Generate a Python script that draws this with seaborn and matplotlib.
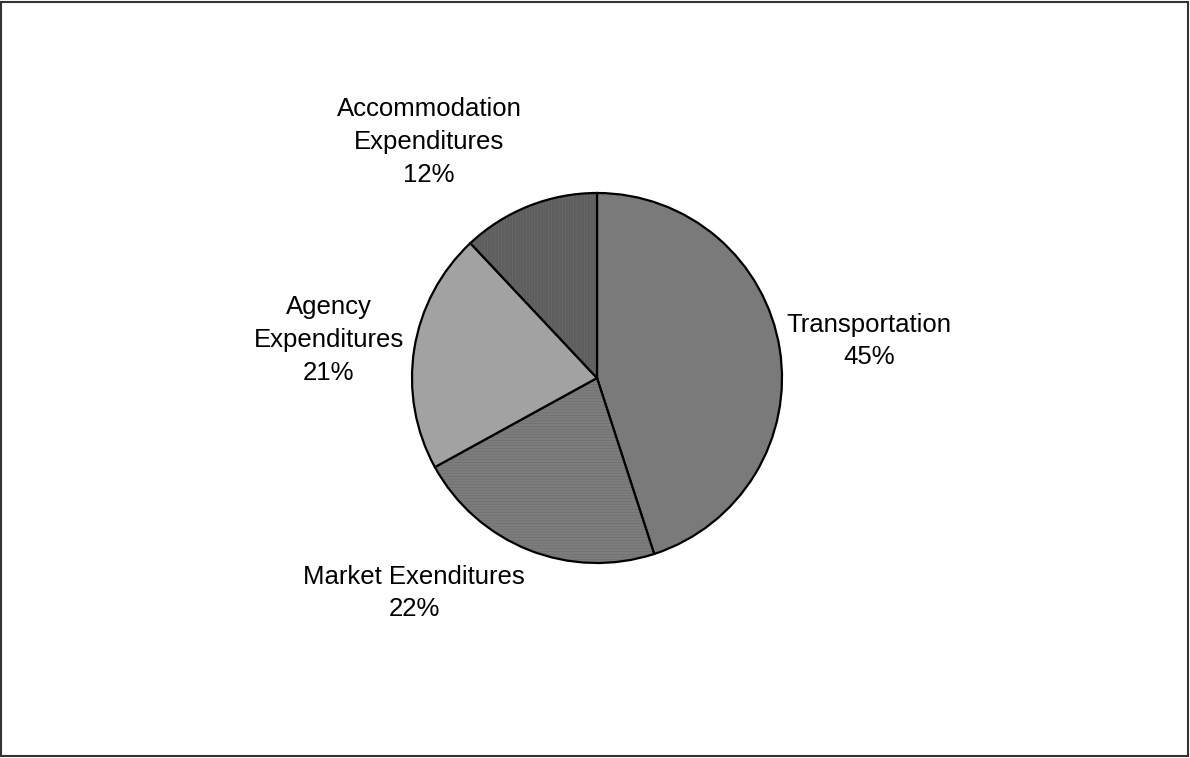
import matplotlib
matplotlib.use("Agg")
import matplotlib.pyplot as plt
from matplotlib.patches import Rectangle
import seaborn as sns

categories = ["Transportation", "Market Exenditures", "Agency\nExpenditures", "Accommodation\nExpenditures"]
shares = [45, 22, 21, 12]
slice_colors = ["#7a7a7a", "#7d7d7d", "#a2a2a2", "#5e5e5e"]
slice_hatches = ["", "------", "", "||||||"]

sns.set_theme(style="white")
plt.rcParams["font.family"] = ["Liberation Sans", "DejaVu Sans"]
plt.rcParams["hatch.linewidth"] = 0.4

W, H = 1190, 758
fig = plt.figure(figsize=(W / 100, H / 100), dpi=100)
fig.patch.set_facecolor("white")

cx, cy, r = 597, 378, 185
ax = fig.add_axes([(cx - r) / W, (H - cy - r) / H, 2 * r / W, 2 * r / H])

wedges, _ = ax.pie(
    shares,
    colors=slice_colors,
    startangle=90,
    counterclock=False,
    radius=1,
    wedgeprops=dict(edgecolor="black", linewidth=1.6),
)
for w, h in zip(wedges, slice_hatches):
    if h:
        w.set_hatch(h)
        w._hatch_color = (0.42, 0.42, 0.42, 1.0)

ax.set_xlim(-1, 1)
ax.set_ylim(-1, 1)
ax.set_aspect("equal")
ax.axis("off")

label_pos = [(869, 341), (414, 593), (329, 340), (429, 142)]
for name, val, (px, py) in zip(categories, shares, label_pos):
    ax.text((px - cx) / r, (cy - py) / r, f"{name}\n{val}%",
            ha="center", va="center", fontsize=18.5, color="black",
            linespacing=1.45, clip_on=False)

fig.patches.append(Rectangle((0.001, 0.002), 0.997, 0.996, transform=fig.transFigure,
                             fill=False, edgecolor="#333333", linewidth=1.5))

fig.savefig("out.png", dpi=100)
